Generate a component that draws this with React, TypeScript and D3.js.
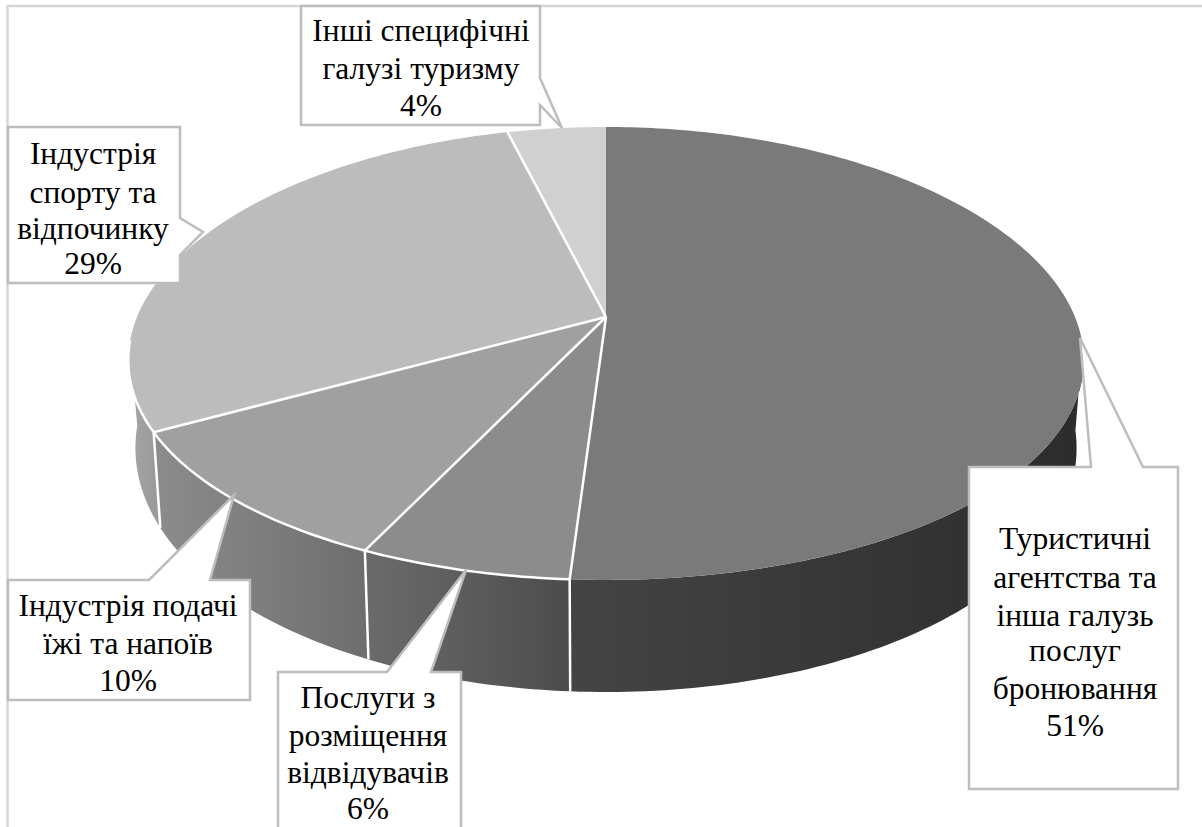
import React from 'react';
import * as d3 from 'd3';

const shares = [51, 6, 10, 29, 4];
const labels = [
  ['Туристичні', 'агентства та', 'інша галузь', 'послуг', 'бронювання', '51%'],
  ['Послуги з', 'розміщення', 'відвідувачів', '6%'],
  ['Індустрія подачі', 'їжі та напоїв', '10%'],
  ['Індустрія', 'спорту та', 'відпочинку', '29%'],
  ['Інші специфічні', 'галузі туризму', '4%'],
];
const topColors = ['#7a7a7a', '#8c8c8c', '#a0a0a0', '#bcbcbc', '#d0d0d0'];
const wallColors = [
  ['#444444', '#2c2c2c'],
  ['#6b6b6b', '#4c4c4c'],
  ['#8c8c8c', '#6e6e6e'],
  ['#a6a6a6', '#9a9a9a'],
  ['#bbbbbb', '#bbbbbb'],
];

const width = 1202;
const height = 827;
const border = '#bdbdbd';

// callout boxes: x1,y1,x2,y2, pointer as [side pts], text centre and line centres
const callouts = [
  { box: [969, 467, 1178, 789], ptr: [[1091, 467], [1080, 338], [1143, 467]], cx: 1075, ys: [538, 577, 615, 650, 688, 725] },
  { box: [278, 672, 461, 835], ptr: [[387, 672], [466, 570], [431, 672]], cx: 368, ys: [697, 735, 772, 808] },
  { box: [8, 580, 250, 700], ptr: [[149, 580], [234, 495], [210, 580]], cx: 128, ys: [605, 643, 680] },
  { box: [8, 127, 180, 283], ptr: [[180, 218], [203, 232], [180, 255]], cx: 93, ys: [153, 192, 228, 263] },
  { box: [301, 6, 540, 125], ptr: [[540, 78], [562, 128], [540, 105]], cx: 421, ys: [30, 68, 105] },
];

// the pie is a tilted disc, so a point on it goes through a small perspective divide
const perspX = 0.19;
const perspY = 0.161;
const cx = 606;
const project = (x0: number, y0: number, bx: number, by: number) => (t: number, r = 1): [number, number] => {
  const u = Math.sin(t) * r;
  const v = Math.cos(t) * r;
  return [x0 + (bx * u) / (1 + perspX * v), y0 - (by * v) / (1 + perspY * v)];
};
const topPt = project(cx, 317, 469, 220.6);
const botPt = project(cx, 400, 462, 245);

const pieGen = d3.pie<number>().sort(null).startAngle(0).endAngle(2 * Math.PI);
const arcs = pieGen(shares);
const line = d3.line();

const sample = (a: number, b: number) => {
  const n = Math.max(2, Math.ceil(Math.abs(b - a) * 60));
  return d3.range(n + 1).map((i) => a + ((b - a) * i) / n);
};

const wallFrom = (97 * Math.PI) / 180;
const wallTo = (264 * Math.PI) / 180;

export default function App() {
  const walls = arcs
    .map((a, i) => ({ i, a0: Math.max(a.startAngle, wallFrom), a1: Math.min(a.endAngle, wallTo) }))
    .filter((w) => w.a1 > w.a0);

  return (
    <svg
      width={width}
      height={height}
      viewBox={`0 0 ${width} ${height}`}
      style={{ position: 'absolute', left: 0, top: 0, background: '#fff' }}
      fontFamily="'Liberation Serif', serif"
    >
      <defs>
        {walls.map((w) => {
          const xs = [topPt(w.a0)[0], topPt(w.a1)[0]];
          return (
            <linearGradient
              key={w.i}
              id={`wall${w.i}`}
              gradientUnits="userSpaceOnUse"
              x1={d3.min(xs)}
              x2={d3.max(xs)}
              y1={0}
              y2={0}
            >
              <stop offset="0%" stopColor={wallColors[w.i][0]} />
              <stop offset="100%" stopColor={wallColors[w.i][1]} />
            </linearGradient>
          );
        })}
      </defs>
      <rect x={0} y={0} width={width} height={height} fill="#fff" />
      <path d={`M7.5 ${height}V6H${width}`} fill="none" stroke="#d6d6d6" strokeWidth={2.5} />

      {walls.map((w) => {
        const pts = [...sample(w.a0, w.a1).map((t) => topPt(t)), ...sample(w.a1, w.a0).map((t) => botPt(t))];
        return <path key={w.i} d={`${line(pts)}Z`} fill={`url(#wall${w.i})`} />;
      })}

      {arcs.map((a, i) => {
        const pts = [topPt(0, 0), ...sample(a.startAngle, a.endAngle).map((t) => topPt(t))];
        return <path key={i} d={`${line(pts)}Z`} fill={topColors[i]} />;
      })}

      {arcs.slice(0, 3).map((a, i) => (
        <path
          key={i}
          d={line([topPt(a.endAngle), botPt(a.endAngle)]) as string}
          stroke="#fff"
          strokeWidth={2.5}
          fill="none"
        />
      ))}
      {arcs.slice(0, 4).map((a, i) => (
        <path
          key={i}
          d={line([topPt(0, 0), topPt(a.endAngle)]) as string}
          stroke="#fff"
          strokeWidth={2.5}
          fill="none"
        />
      ))}
      <path
        d={line(sample(arcs[0].endAngle, wallTo).map((t) => topPt(t))) as string}
        stroke="#fff"
        strokeWidth={2.5}
        fill="none"
      />

      {callouts.map((c, i) => {
        const [x1, y1, x2, y2] = c.box;
        const [p0, tip, p1] = c.ptr;
        let d = `M${x1} ${y1}`;
        if (p0[1] === y1 && i < 3) {
          d += `L${p0[0]} ${p0[1]}L${tip[0]} ${tip[1]}L${p1[0]} ${p1[1]}L${x2} ${y1}L${x2} ${y2}L${x1} ${y2}Z`;
        } else {
          d += `L${x2} ${y1}L${p0[0]} ${p0[1]}L${tip[0]} ${tip[1]}L${p1[0]} ${p1[1]}L${x2} ${y2}L${x1} ${y2}Z`;
        }
        return (
          <g key={i}>
            <path d={d} fill="#fff" stroke={border} strokeWidth={2.5} strokeLinejoin="miter" />
            {labels[i].map((t, j) => (
              <text key={j} x={c.cx} y={c.ys[j]} dy="0.34em" textAnchor="middle" fontSize={31.5} fill="#000">
                {t}
              </text>
            ))}
          </g>
        );
      })}
    </svg>
  );
}
